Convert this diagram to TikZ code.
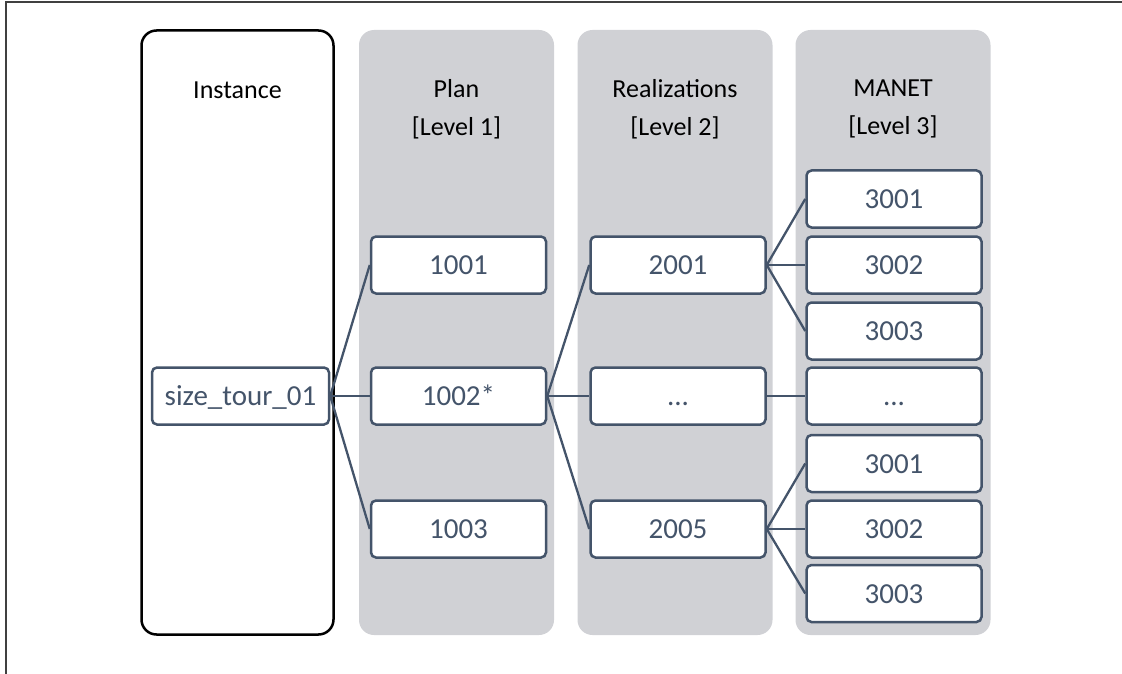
\documentclass[tikz,border=0pt]{standalone}
\usepackage{fontspec}
\setmainfont{Carlito}
\usetikzlibrary{positioning}
\definecolor{slate}{HTML}{44546A}
\definecolor{colgray}{HTML}{D0D1D5}
\definecolor{framegray}{HTML}{404040}
\tikzset{
  column/.style={rectangle,fill=colgray,rounded corners=15pt,minimum width=195pt,minimum height=605pt,inner sep=0pt},
  inst/.style={rectangle,draw=black,line width=2.5pt,rounded corners=15pt,minimum width=192pt,minimum height=604pt,inner sep=0pt},
  head/.style={align=center,font=\fontsize{26}{38}\selectfont},
  idbox/.style={rectangle,draw=slate,fill=white,line width=2.5pt,rounded corners=5pt,minimum width=175pt,minimum height=57pt,inner sep=0pt,text=slate,text height=19pt,text depth=0pt,font=\fontsize{29}{34}\selectfont},
  link/.style={draw=slate,line width=2.3pt}
}
\begin{document}
\begin{tikzpicture}[x=1pt,y=-1pt]
\useasboundingbox (0,0) rectangle (1122,674);
% frame
\draw[framegray,line width=2pt] (1122,2) -- (6,2) -- (6,674);
% columns
\path (237.5,332.5) node(colinst) [inst]{};
\path (456.5,332.5) node(colplan) [column]{};
\path (675,332.5) node(colreal) [column]{};
\path (893,332.5) node(colmanet) [column]{};
\path (237.5,90) node(hinst) [head]{Instance};
\path (456.5,109) node(hplan) [head]{Plan\\\relax [Level 1]};
\path (675,109) node(hreal) [head]{Realizations\\\relax [Level 2]};
\path (893,109) node(hmanet) [head]{MANET\\\relax [Level 3]};
% instance
\path (240.5,396) node(size) [idbox,minimum width=177pt]{size\_tour\_01};
% level 1
\path (458.5,265) node(p1) [idbox]{1001};
\path (458.5,396) node(p2) [idbox]{1002*};
\path (458.5,529) node(p3) [idbox]{1003};
% level 2
\path (678,265) node(r1) [idbox]{2001};
\path (678,396) node(r2) [idbox]{...};
\path (678,529) node(r5) [idbox]{2005};
% level 3
\path (894,199) node(ma1) [idbox]{3001};
\path (894,265) node(ma2) [idbox]{3002};
\path (894,331) node(ma3) [idbox]{3003};
\path (894,396) node(mdots) [idbox]{...};
\path (894,463.5) node(mb1) [idbox]{3001};
\path (894,529) node(mb2) [idbox]{3002};
\path (894,593.5) node(mb3) [idbox]{3003};
% links
\draw[link] (size.east) -- (p1.west);
\draw[link] (size.east) -- (p2.west);
\draw[link] (size.east) -- (p3.west);
\draw[link] (p2.east) -- (r1.west);
\draw[link] (p2.east) -- (r2.west);
\draw[link] (p2.east) -- (r5.west);
\draw[link] (r1.east) -- (ma1.west);
\draw[link] (r1.east) -- (ma2.west);
\draw[link] (r1.east) -- (ma3.west);
\draw[link] (r2.east) -- (mdots.west);
\draw[link] (r5.east) -- (mb1.west);
\draw[link] (r5.east) -- (mb2.west);
\draw[link] (r5.east) -- (mb3.west);
\end{tikzpicture}
\end{document}
